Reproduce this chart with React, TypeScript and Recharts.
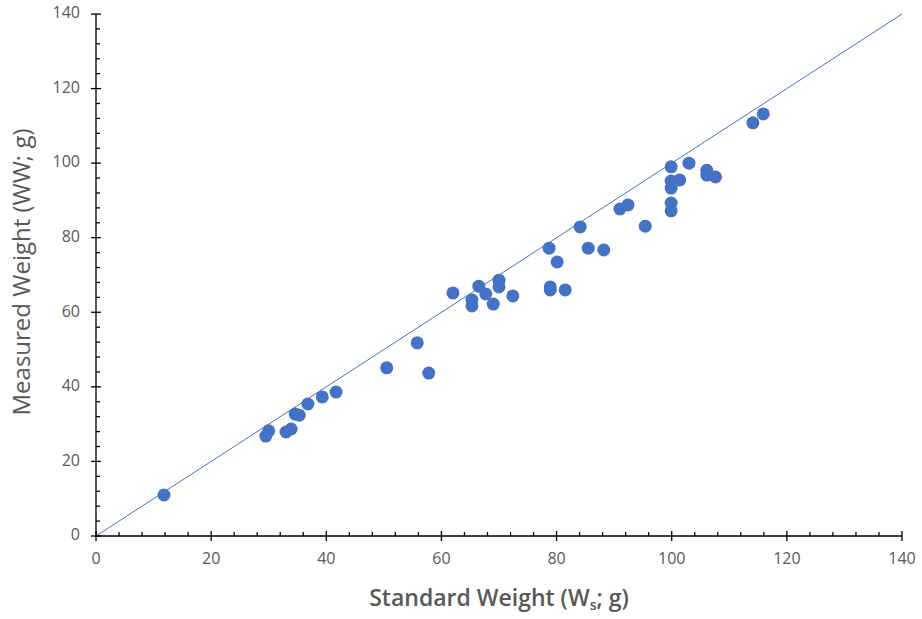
import { ScatterChart, Scatter, XAxis, YAxis, ReferenceLine } from 'recharts'

// standard weight (Ws; g) vs measured weight (WW; g)
const standardWeight = [
  11.8, 29.5, 30.0, 33.0, 33.9, 34.6, 35.3, 36.8, 39.3, 41.7, 50.5, 55.8, 57.8, 62.0, 65.3,
  65.3, 66.5, 67.7, 69.0, 70.0, 70.0, 72.4, 78.9, 78.9, 78.7, 80.1, 81.5, 84.1, 85.5, 88.2,
  91.0, 92.4, 95.4, 99.9, 99.9, 99.9, 99.9, 99.9, 101.4, 103.0, 106.1, 106.1, 107.6, 114.1, 115.9,
]
const measuredWeight = [
  11.0, 26.8, 28.2, 27.9, 28.7, 32.7, 32.4, 35.4, 37.3, 38.6, 45.1, 51.8, 43.7, 65.2, 63.3,
  61.7, 67.0, 64.9, 62.2, 68.6, 66.8, 64.4, 66.8, 66.0, 77.2, 73.5, 66.0, 82.9, 77.2, 76.7,
  87.7, 88.8, 83.1, 99.0, 95.2, 93.3, 89.3, 87.2, 95.5, 100.0, 98.1, 96.8, 96.3, 110.8, 113.2,
]

const axisTicks = [
  0, 4, 8, 12, 16, 20, 24, 28, 32, 36, 40, 44, 48, 52, 56, 60, 64, 68, 72, 76, 80, 84, 88, 92,
  96, 100, 104, 108, 112, 116, 120, 124, 128, 132, 136, 140,
]
const labelStep = 20

const points = standardWeight.map((x, i) => ({ x, y: measuredWeight[i] }))

const blue = '#4472C4'
const grey = '#595959'
const font = '"Open Sans", sans-serif'

function XTick({ x, y, payload }: any) {
  const v = payload.value
  const major = v % labelStep === 0
  return (
    <g>
      <line x1={x} x2={x} y1={major ? y - 5 : y - 4} y2={major ? y + 5 : y} stroke="#000" strokeWidth={1.3} />
      {major && (
        <text x={x} y={y + 24} textAnchor="middle" dominantBaseline="middle" fill={grey} fontSize={16} fontFamily={font}>
          {v}
        </text>
      )}
    </g>
  )
}

function YTick({ x, y, payload }: any) {
  const v = payload.value
  const major = v % labelStep === 0
  return (
    <g>
      <line x1={major ? x - 5 : x} x2={major ? x + 5 : x + 4} y1={y} y2={y} stroke="#000" strokeWidth={1.3} />
      {major && (
        <text x={x - 16} y={y} textAnchor="end" dominantBaseline="middle" fill={grey} fontSize={16} fontFamily={font}>
          {v}
        </text>
      )}
    </g>
  )
}

function YTitle({ viewBox }: any) {
  const cx = viewBox.x + 24
  const cy = viewBox.y + viewBox.height / 2 - 3
  return (
    <text
      x={cx}
      y={cy}
      transform={`rotate(-90 ${cx} ${cy})`}
      textAnchor="middle"
      dominantBaseline="middle"
      fill={grey}
      fontSize={24}
      fontFamily={font}
    >
      Measured Weight (WW; g)
    </text>
  )
}

function XTitle({ viewBox }: any) {
  const cx = viewBox.x + viewBox.width / 2
  const cy = viewBox.y + 64
  return (
    <text x={cx} y={cy} textAnchor="middle" dominantBaseline="middle" fill={grey} fontSize={23} fontWeight={600} fontFamily={font}>
      Standard Weight (W
      <tspan fontSize={14} dy={6}>s</tspan>
      <tspan dy={-6}>; g)</tspan>
    </text>
  )
}

function Dot({ cx, cy }: any) {
  return <circle cx={cx} cy={cy} r={6.5} fill={blue} />
}

export default function App() {
  return (
    <div style={{ position: 'absolute', left: 0, top: 0, background: '#fff' }}>
      <ScatterChart width={922} height={619} margin={{ top: 14, right: 20, left: 0, bottom: 0 }}>
        <XAxis
          type="number"
          dataKey="x"
          domain={[0, 140]}
          ticks={axisTicks}
          interval={0}
          tickSize={0}
          tickMargin={0}
          tickLine={false}
          tick={<XTick />}
          axisLine={{ stroke: '#000', strokeWidth: 1.3 }}
          height={83}
          label={<XTitle />}
        />
        <YAxis
          type="number"
          dataKey="y"
          domain={[0, 140]}
          ticks={axisTicks}
          interval={0}
          tickSize={0}
          tickMargin={0}
          tickLine={false}
          tick={<YTick />}
          axisLine={{ stroke: '#000', strokeWidth: 1.3 }}
          width={96}
          label={<YTitle />}
        />
        <ReferenceLine
          segment={[
            { x: 0, y: 0 },
            { x: 140, y: 140 },
          ]}
          stroke={blue}
          strokeWidth={1}
        />
        <Scatter data={points} fill={blue} shape={<Dot />} isAnimationActive={false} />
      </ScatterChart>
    </div>
  )
}
